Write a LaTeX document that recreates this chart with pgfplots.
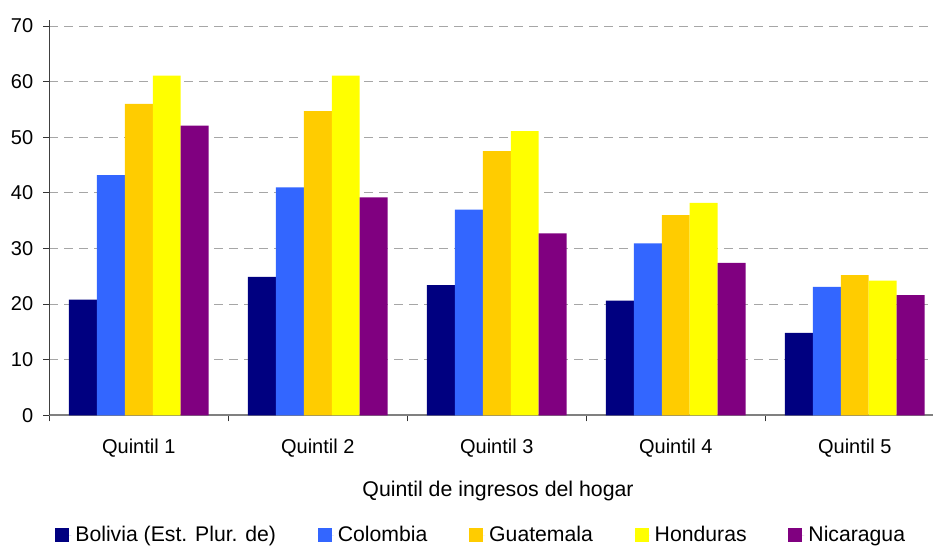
\documentclass[border=0pt]{standalone}
\usepackage{pgfplots}
\pgfplotsset{compat=1.18}
\usepackage{pgfplotstable}
\usepackage{fontspec}
\setmainfont{Liberation Sans}

\definecolor{bol}{HTML}{000080}
\definecolor{col}{HTML}{3366FF}
\definecolor{gua}{HTML}{FFCC00}
\definecolor{hon}{HTML}{FFFF00}
\definecolor{nic}{HTML}{800080}

% one row per quintil
\pgfplotstableread{
q  bol  col  gua  hon  nic
0  20.8 43.2 56.0 61.1 52.1
1  24.9 41.0 54.7 61.1 39.2
2  23.4 37.0 47.5 51.1 32.7
3  20.6 30.9 36.0 38.2 27.4
4  14.8 23.1 25.2 24.2 21.6
}\quintiles

\begin{document}
\begin{tikzpicture}
\useasboundingbox (-24.65pt,-65.35pt) rectangle (441.85pt,207.65pt);
\begin{axis}[
  scale only axis,
  width=441.85pt, height=197.43pt,
  xmin=-0.5, xmax=4.437,
  ymin=0, ymax=71,
  ytick={0,10,...,70},
  axis x line*=bottom, axis y line*=left,
  x axis line style={-, draw=black!50, line width=0.9pt},
  y axis line style={-, draw=black!75, line width=0.5pt},
  tick align=outside,
  major tick length=3pt,
  tick style={draw=black!80, line width=0.5pt},
  xtick={-0.5,0.5,1.5,2.5,3.5},
  xticklabels={},
  extra x ticks={0,1,2,3,4},
  extra x tick labels={Quintil 1,Quintil 2,Quintil 3,Quintil 4,Quintil 5},
  extra x tick style={major tick length=0pt, xticklabel style={anchor=base, yshift=-19pt}},
  yticklabel style={xshift=-1.5pt},
  /pgf/number format/assume math mode=true,
  ymajorgrids,
  major grid style={draw=black!35, line width=0.5pt, dash pattern=on 4.5pt off 3pt},
  ybar=0pt, bar width=0.156,
  every axis plot/.append style={draw=none},
  xlabel={Quintil de ingresos del hogar},
  xlabel style={font=\fontsize{10.65}{12}\selectfont,
    at={(axis description cs:0.5078,0)}, anchor=base, yshift=-40.35pt},
  legend columns=5,
  legend style={draw=none, fill=none, inner sep=0pt,
    font=\fontsize{10.6}{12}\selectfont,
    at={(axis description cs:0,0)}, anchor=west, xshift=2.85pt, yshift=-60.1pt,
    /tikz/every even column/.append style={column sep=18.9pt}},
  legend image code/.code={\path (0pt,0pt) -- (8pt,0pt);
    \fill[#1] (0pt,-3.5pt) rectangle (7pt,3.5pt);},
]
\addplot[fill=bol] table[x=q, y=bol] {\quintiles};
\addlegendentry{Bolivia (Est. Plur. de)}
\addplot[fill=col] table[x=q, y=col] {\quintiles};
\addlegendentry{Colombia}
\addplot[fill=gua] table[x=q, y=gua] {\quintiles};
\addlegendentry{Guatemala}
\addplot[fill=hon] table[x=q, y=hon] {\quintiles};
\addlegendentry{Honduras}
\addplot[fill=nic] table[x=q, y=nic] {\quintiles};
\addlegendentry{Nicaragua}
\end{axis}
\end{tikzpicture}
\end{document}
